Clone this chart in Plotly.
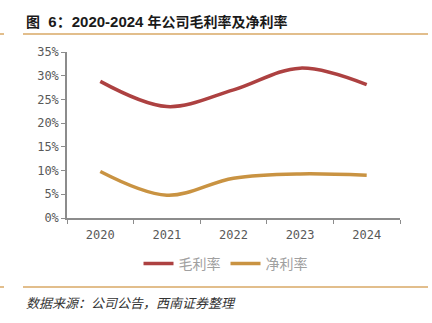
import plotly.graph_objects as go

# Data
years = ["2020", "2021", "2022", "2023", "2024"]
gross_margin = [28.8, 23.5, 27.0, 31.6, 28.1]
net_margin = [9.8, 4.8, 8.4, 9.3, 9.0]
y_ticks = [0, 5, 10, 15, 20, 25, 30, 35]
y_tick_labels = [f"{v}%" for v in y_ticks]

W, H = 432, 323
L, R, T, B = 67, 32, 52, 105
PW, PH = W - L - R, H - T - B


def px_x(x):
    return (x - L) / PW


def px_y(y):
    return (H - B - y) / PH


RED = "#AD4141"
GOLD = "#C99342"
RULE = "#D9A866"

fig = go.Figure()
fig.add_trace(go.Scatter(
    x=years, y=gross_margin, name="毛利率", mode="lines",
    line=dict(color=RED, width=3.5, shape="spline", smoothing=1.0),
))
fig.add_trace(go.Scatter(
    x=years, y=net_margin, name="净利率", mode="lines",
    line=dict(color=GOLD, width=3.5, shape="spline", smoothing=1.0),
))

axis_font = dict(family="DejaVu Sans Mono, Liberation Mono, monospace", size=12, color="#595959")

fig.update_layout(
    width=W, height=H,
    margin=dict(l=L, r=R, t=T, b=B),
    paper_bgcolor="white", plot_bgcolor="white",
    showlegend=True,
    legend=dict(
        orientation="h", x=0.476, xanchor="center", y=px_y(264), yanchor="middle",
        font=dict(family="Noto Sans CJK SC", size=14, color="#A0A0A0"),
        itemwidth=30, tracegroupgap=0, bgcolor="rgba(0,0,0,0)",
    ),
    xaxis=dict(
        type="category", range=[-0.5, 4.5],
        showline=True, linecolor="#8C8C8C", linewidth=1.5,
        ticks="outside", tickson="boundaries", ticklen=4, tickcolor="#8C8C8C",
        ticklabelstandoff=5,
        tickfont=axis_font, showgrid=False, zeroline=False,
    ),
    yaxis=dict(
        range=[0, 35], tickvals=y_ticks, ticktext=y_tick_labels,
        showline=True, linecolor="#8C8C8C", linewidth=1.5,
        ticks="outside", ticklen=4, tickcolor="#8C8C8C",
        tickfont=axis_font, showgrid=False, zeroline=False,
    ),
)

# Title: Latin digits in a bold sans, CJK text in the CJK face
cjk = "font-family:'Noto Sans CJK SC';font-size:14px"
title = (
    f"<b><span style=\"{cjk}\">图</span>  6<span style=\"{cjk};font-size:15px\">：</span>"
    f"2020-2024 <span style=\"{cjk}\">年公司毛利率及净利率</span></b>"
)
fig.add_annotation(
    text=title,
    xref="paper", yref="paper", x=px_x(24), y=px_y(20),
    xanchor="left", yanchor="middle", showarrow=False,
    font=dict(family="Liberation Sans, Arial, sans-serif", size=15, color="#1A1A1A"),
)
fig.add_annotation(
    text="<i>数据来源：公司公告，西南证券整理</i>",
    xref="paper", yref="paper", x=px_x(24), y=px_y(302),
    xanchor="left", yanchor="middle", showarrow=False,
    font=dict(family="Noto Sans CJK SC", size=13, color="#333333"),
)

# Rules above the chart and below the legend
for y in (34, 287):
    fig.add_shape(type="line", xref="paper", yref="paper",
                  x0=px_x(23), x1=px_x(428), y0=px_y(y), y1=px_y(y),
                  line=dict(color=RULE, width=1.5))
    fig.add_shape(type="line", xref="paper", yref="paper",
                  x0=px_x(0), x1=px_x(4), y0=px_y(y), y1=px_y(y),
                  line=dict(color=RULE, width=1.5))

fig.write_html("out.html")
